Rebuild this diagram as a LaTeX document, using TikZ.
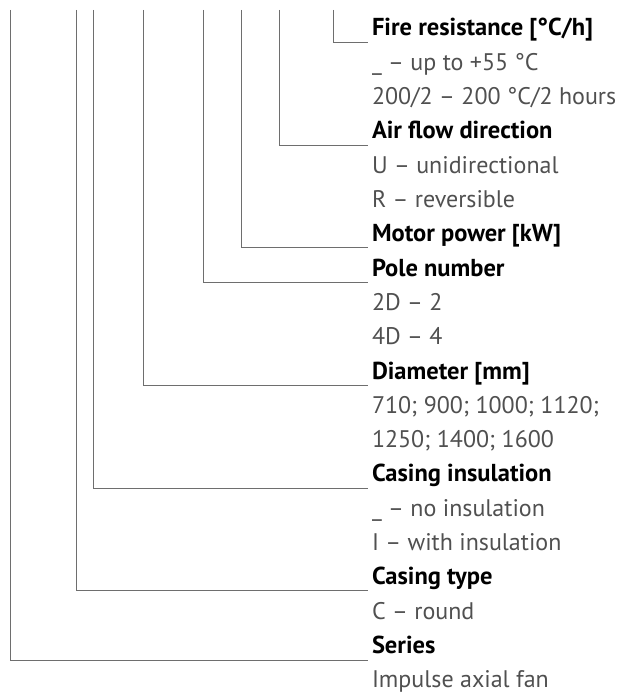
\documentclass[tikz,border=0pt]{standalone}
\usepackage{fontspec}
\setmainfont{PT Sans}
\usepackage{tikz}
\usetikzlibrary{positioning}
\usepackage{xcolor}
\definecolor{leadgray}{HTML}{6E6E6E}
\definecolor{textgray}{HTML}{505050}

\begin{document}
\begin{tikzpicture}[
    x=1pt, y=-1pt,
    every node/.style={font=\fontsize{24}{28}\selectfont},
    item/.style={anchor=north west, inner xsep=4pt, inner ysep=0pt, outer sep=0pt, text height=25pt, text depth=9.3pt, text=textgray},
    head/.style={item, font=\fontsize{24.5}{28}\selectfont\bfseries, text=black},
    lead/.style={draw=leadgray, line width=0.8pt}
]
    \useasboundingbox (0,0) rectangle (632,693);

    % legend column
    \node[head] (fire) at (368,11) {Fire resistance [°C/h]};
    \node[item] (fire1) at (fire.south west) {\_ -- up to +55 °C};
    \node[item] (fire2) at (fire1.south west) {200/2 -- 200 °C/2 hours};
    \node[head] (air) at (fire2.south west) {Air flow direction};
    \node[item] (air1) at (air.south west) {U -- unidirectional};
    \node[item] (air2) at (air1.south west) {R -- reversible};
    \node[head] (motor) at (air2.south west) {Motor power [kW]};
    \node[head] (pole) at (motor.south west) {Pole number};
    \node[item] (pole1) at (pole.south west) {2D -- 2};
    \node[item] (pole2) at (pole1.south west) {4D -- 4};
    \node[head] (diam) at (pole2.south west) {Diameter [mm]};
    \node[item] (diam1) at (diam.south west) {710; 900; 1000; 1120;};
    \node[item] (diam2) at (diam1.south west) {1250; 1400; 1600};
    \node[head] (insul) at (diam2.south west) {Casing insulation};
    \node[item] (insul1) at (insul.south west) {\_ -- no insulation};
    \node[item] (insul2) at (insul1.south west) {I -- with insulation};
    \node[head] (casing) at (insul2.south west) {Casing type};
    \node[item] (casing1) at (casing.south west) {C -- round};
    \node[head] (series) at (casing1.south west) {Series};
    \node[item] (series1) at (series.south west) {Impulse axial fan};

    % tops of the leader lines
    \coordinate (tseries) at (10,10);
    \coordinate (tcasing) at (76,10);
    \coordinate (tinsul) at (93,10);
    \coordinate (tdiam) at (143,10);
    \coordinate (tpole) at (203,10);
    \coordinate (tmotor) at (241,10);
    \coordinate (tair) at (279,10);
    \coordinate (tfire) at (333,10);

    \draw[lead] (tfire) |- ([yshift=-6pt]fire.base west);
    \draw[lead] (tair) |- ([yshift=-6pt]air.base west);
    \draw[lead] (tmotor) |- ([yshift=-6pt]motor.base west);
    \draw[lead] (tpole) |- ([yshift=-6pt]pole.base west);
    \draw[lead] (tdiam) |- ([yshift=-6pt]diam.base west);
    \draw[lead] (tinsul) |- ([yshift=-6pt]insul.base west);
    \draw[lead] (tcasing) |- ([yshift=-6pt]casing.base west);
    \draw[lead] (tseries) |- ([yshift=-7pt]series.base west);
\end{tikzpicture}
\end{document}
